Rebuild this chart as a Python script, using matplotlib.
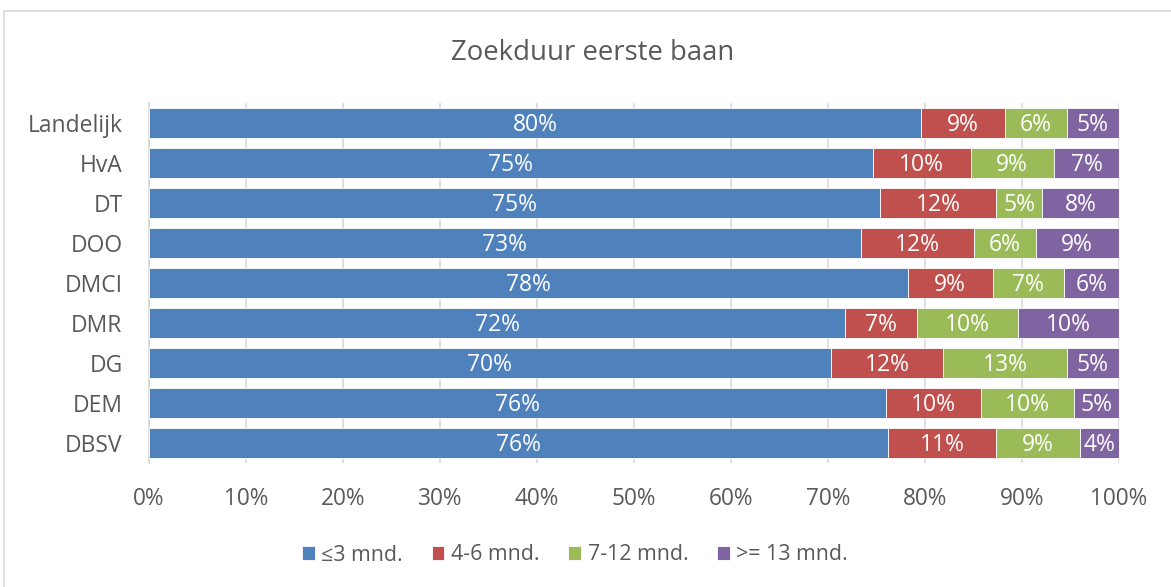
import matplotlib
matplotlib.use("Agg")
import matplotlib.pyplot as plt
import numpy as np
from matplotlib.patches import Rectangle

plt.rcParams['font.family'] = ['Open Sans', 'DejaVu Sans']

# Data (percent per group)
groups = ["Landelijk", "HvA", "DT", "DOO", "DMCI", "DMR", "DG", "DEM", "DBSV"]
series_names = ["≤3 mnd.", "4-6 mnd.", "7-12 mnd.", ">= 13 mnd."]
upto_3 = [79.6, 74.6, 75.4, 73.4, 78.2, 71.8, 70.3, 76.0, 76.2]
m4_6 = [8.6, 10.1, 11.9, 11.6, 8.8, 7.4, 11.6, 9.8, 11.1]
m7_12 = [6.4, 8.6, 4.8, 6.4, 7.3, 10.4, 12.7, 9.6, 8.7]
m13_plus = [5.4, 6.7, 7.9, 8.6, 5.7, 10.4, 5.4, 4.6, 4.0]
x_ticks = [0, 10, 20, 30, 40, 50, 60, 70, 80, 90, 100]

colors = ["#4F81BD", "#C0504D", "#9BBB59", "#8064A2"]
text_gray = "#595959"

fig = plt.figure(figsize=(11.71, 5.87), dpi=100)
ax = fig.add_axes([149 / 1171, 1 - 463 / 587, 970 / 1171, 360 / 587])

# chart border
fig.patches.append(Rectangle((4 / 1171, -0.1), 1.2, 1 - 11 / 587 + 0.1,
                             transform=fig.transFigure, fill=False,
                             edgecolor="#D9D9D9", linewidth=1.2))

y = np.arange(len(groups))
left = np.zeros(len(groups))
for vals, name, col in zip([upto_3, m4_6, m7_12, m13_plus], series_names, colors):
    vals = np.array(vals)
    ax.barh(y, vals, left=left, height=0.76, color=col, label=name, zorder=3,
            edgecolor="white", linewidth=0.6)
    for yi, l, v in zip(y, left, vals):
        ax.text(l + v / 2, yi + 0.04, f"{v:.0f}%", ha="center", va="center",
                color="white", fontsize=16.5, zorder=4)
    left += vals

ax.set_ylim(len(groups) - 0.5, -0.5)
ax.set_xlim(0, 100)
ax.set_yticks(y)
ax.set_yticklabels(groups, fontsize=16.5, color=text_gray)
ax.set_xticks(x_ticks)
ax.set_xticklabels([f"{t}%" for t in x_ticks], fontsize=16.3, color=text_gray)
ax.tick_params(length=0)
ax.tick_params(axis="y", pad=19)
ax.tick_params(axis="x", pad=17)
ax.grid(axis="x", color="#D9D9D9", linewidth=1.2, zorder=0)
for s in ["top", "right", "bottom"]:
    ax.spines[s].set_visible(False)
ax.spines["left"].set_color("#D9D9D9")
ax.spines["left"].set_linewidth(1.2)

fig.text(593 / 1171, 1 - 53 / 587, "Zoekduur eerste baan", ha="center", va="center",
         fontsize=19.8, color=text_gray)

fig.legend(loc="center", bbox_to_anchor=(575 / 1171, 1 - 555 / 587), ncol=4,
           frameon=False, fontsize=15.4, labelcolor=text_gray, handlelength=0.6,
           handleheight=0.6, handletextpad=0.3, columnspacing=1.35)

fig.savefig("out.png", dpi=100)
